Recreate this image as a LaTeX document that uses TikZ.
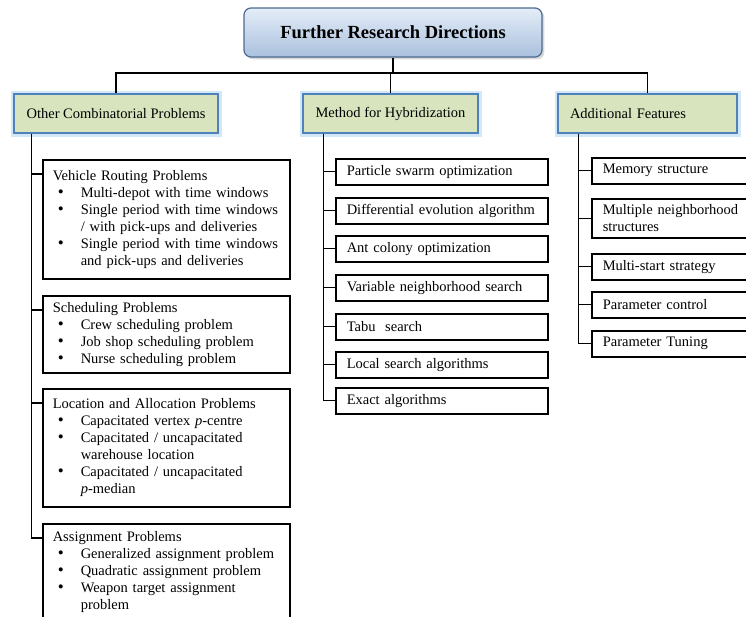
\documentclass[tikz,border=0pt]{standalone}
\usepackage{fontspec}
\setmainfont{Liberation Serif}
\usepackage{tikz}
\usetikzlibrary{shadows}
\usepackage{xcolor}
\definecolor{titletop}{HTML}{E4EDF8}
\definecolor{titlebot}{HTML}{A9C0DD}
\definecolor{titleline}{HTML}{4E6A8E}
\definecolor{catfill}{HTML}{D7E4BD}
\definecolor{catline}{HTML}{4F81BD}
\definecolor{catglow}{HTML}{9CCBEF}
\hyphenpenalty=10000
\newcommand{\bul}[1]{\par\noindent\hangindent=28pt\hangafter=1\hspace*{5pt}\makebox[23pt][l]{\fontsize{17}{17}\selectfont\textbullet}#1\par}

\begin{document}
\begin{tikzpicture}[x=1pt,y=-1pt,
	title/.style={rectangle,rounded corners=7pt,draw=titleline,line width=1.2pt,top color=titletop,bottom color=titlebot,drop shadow={opacity=0.3},minimum width=298pt,minimum height=49pt,font=\fontsize{18.5}{22}\selectfont\bfseries},
	cat/.style={rectangle,draw=catline,line width=1.5pt,fill=catfill,minimum height=39pt,font=\fontsize{14.5}{17}\selectfont,preaction={draw=catglow,line width=7pt,opacity=0.45}},
	item/.style={rectangle,draw,line width=1.5pt,fill=white,anchor=north west,minimum height=26pt,align=left,font=\fontsize{14.5}{17}\selectfont},
	link/.style={line width=1.4pt}]
			\useasboundingbox (0,0) rectangle (746,616);
			\clip (0,0) rectangle (746,616);
			\node[title] (frd) at (393,32.5) {Further Research Directions};
			\node[cat,minimum width=204pt] (ocp) at (116,113.5) {Other Combinatorial Problems};
			\node[cat,minimum width=175pt] (mfh) at (390.5,113.5) {Method for Hybridization};
			\node[cat,text width=155pt,inner xsep=12pt,align=left] (adf) at (647.5,113.5) {Additional Features};
			\coordinate (bus) at (393,73);
			\draw[link] (frd.south) -- (bus);
			\draw[link] (ocp.north) |- (bus) -| (adf.north);
			\draw[link] (mfh.north) -- (mfh.north |- bus);

			\node[item,text width=227pt,inner xsep=10pt,minimum height=119pt] (vrp) at (42,159) {Vehicle Routing Problems\bul{Multi-depot with time windows}\bul{Single period with time windows\newline/ with pick-ups and deliveries}\bul{Single period with time windows\newline and pick-ups and deliveries}};
			\node[item,text width=227pt,inner xsep=10pt,minimum height=77pt] (sch) at (42,295) {Scheduling Problems\bul{Crew scheduling problem}\bul{Job shop scheduling problem}\bul{Nurse scheduling problem}};
			\node[item,text width=227pt,inner xsep=10pt,minimum height=118pt] (lap) at (42,388) {Location and Allocation Problems\bul{Capacitated vertex \textit{p}-centre}\bul{Capacitated / uncapacitated\newline warehouse location}\bul{Capacitated / uncapacitated\newline\textit{p}-median}};
			\node[item,text width=227pt,inner xsep=10pt,minimum height=97pt] (asp) at (42,523) {Assignment Problems\bul{Generalized assignment problem}\bul{Quadratic assignment problem}\bul{Weapon target assignment\newline problem}};
			\foreach \n in {vrp,sch,lap,asp}
				\draw[link] ([xshift=18pt]ocp.south west) |- ([yshift=-15pt]\n.north west);

			\foreach \n/\top/\txt in {pso/158/Particle swarm optimization,dea/197/Differential evolution algorithm,aco/235/Ant colony optimization,vns/274/Variable neighborhood search,tbs/313/Tabu\ \ search,lsa/351/Local search algorithms,exa/387/Exact algorithms}
			{
				\node[item,text width=190pt,inner xsep=11pt] (\n) at (335,\top) {\txt};
				\draw[link] ([xshift=21pt]mfh.south west) |- (\n.west);
			}

			\foreach \n/\top/\hgt/\txt in {mem/157/26/Memory structure,mns/198/39/Multiple neighborhood\\structures,mss/253/26/Multi-start strategy,pac/291/26/Parameter control,pat/330/26/Parameter Tuning}
			{
				\node[item,text width=140pt,inner xsep=11pt,minimum height=\hgt pt] (\n) at (591,\top) {\txt};
				\draw[link] ([xshift=21pt]adf.south west) |- (\n.west);
			}
\end{tikzpicture}
\end{document}
